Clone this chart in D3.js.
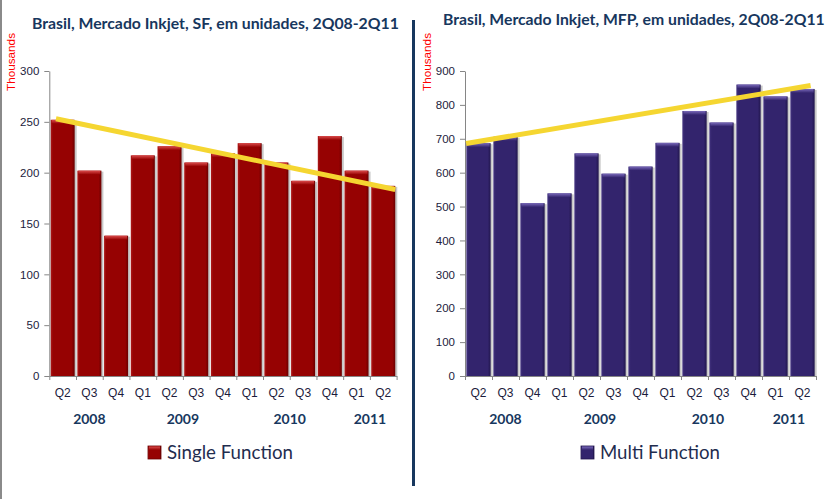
<!DOCTYPE html>
<html><head><meta charset="utf-8">
<script src="https://cdn.jsdelivr.net/npm/d3@7"></script>
<style>body{margin:0;background:#fff}svg{display:block}</style>
</head><body>
<svg id="c" width="826" height="499"></svg>
<script>
// ---- data ----
const categories = ["Q2","Q3","Q4","Q1","Q2","Q3","Q4","Q1","Q2","Q3","Q4","Q1","Q2"];
const yearLabels = ["2008","2009","2010","2011"];
const yearFirst = [0,3,7,11];
const yearLast  = [2,6,10,12];
const sfValues  = [252,202,138,217,226,210,219,229,210,192,236,202,187];
const mfpValues = [687,706,510,539,657,597,618,688,782,748,860,825,847];
const sfTicks  = [0,50,100,150,200,250,300];
const mfpTicks = [0,100,200,300,400,500,600,700,800,900];
const sfTrend  = [253,183.5];
const mfpTrend = [686,857];
const sfTrendPos  = [-0.25,12.45];
const mfpTrendPos = [-0.46,12.3];
const titles = ["Brasil, Mercado Inkjet, SF, em unidades, 2Q08-2Q11","Brasil, Mercado Inkjet, MFP, em unidades, 2Q08-2Q11"];
const legendNames = ["Single Function","Multi Function"];
const yAxisTitle = "Thousands";

const svg = d3.select("#c");
const defs = svg.append("defs");

function makeGrad(id, stops, vertical){
  const g = defs.append("linearGradient").attr("id", id)
    .attr("x1",0).attr("y1",0).attr("x2",vertical?0:1).attr("y2",vertical?1:0);
  stops.forEach(s => g.append("stop").attr("offset", s[0]).attr("stop-color", s[1]));
}
const palettes = {
  sf:  {base:"#960202", light:"#ad1a1a", dark:"#690000", hi:"#db4c4c"},
  mfp: {base:"#33246d", light:"#43337f", dark:"#21164d", hi:"#7a6abb"}
};
Object.entries(palettes).forEach(([k,p])=>{
  makeGrad(k+"Body", [["0%",p.light],["10%",p.base],["88%",p.base],["100%",p.dark]], false);
  makeGrad(k+"Top", [["0%",p.hi],["100%",p.base]], true);
});

// frame decorations
svg.append("line").attr("x1",1).attr("x2",1).attr("y1",0).attr("y2",499)
  .attr("stroke","#8a8a8a").attr("stroke-width",2);
svg.append("line").attr("x1",413.5).attr("x2",413.5).attr("y1",20).attr("y2",486)
  .attr("stroke","#17375e").attr("stroke-width",3);

function fitText(sel, target){
  const n = sel.node();
  const fs = parseFloat(sel.attr("font-size"));
  const w = n.getComputedTextLength();
  sel.attr("font-size", (fs*target/w).toFixed(2));
}

function drawChart(cfg){
  const g = svg.append("g");
  const y = d3.scaleLinear().domain([0, cfg.ticks[cfg.ticks.length-1]]).range([376, 71]);
  const xb = d3.scaleBand().domain(d3.range(categories.length)).range([cfg.x0, cfg.x1])
    .paddingInner(0.1).paddingOuter(0.05);
  const xi = d3.scaleLinear().domain([0, categories.length]).range([cfg.x0, cfg.x1]);
  const step = (cfg.x1-cfg.x0)/categories.length;
  const xc = d3.scaleLinear().domain([0,1]).range([cfg.x0+step/2, cfg.x0+step*1.5]);

  // title
  const t = g.append("text").text(cfg.title).attr("x", cfg.titleX).attr("y", cfg.titleY)
    .attr("font-family","Lato, 'Open Sans', sans-serif").attr("font-weight","bold")
    .attr("font-size",14).attr("fill","#17375e");
  fitText(t, cfg.titleW);

  // y title
  const yt = g.append("text").text(yAxisTitle)
    .attr("transform",`translate(${cfg.yTitleX},62) rotate(-90)`)
    .attr("text-anchor","middle").attr("font-family","'Liberation Sans', Arial, sans-serif")
    .attr("font-size",12.5).attr("fill","#ff0000");
  fitText(yt, 58);

  // bars
  const p = cfg.key;
  const bars = g.append("g");
  const vals = cfg.values;
  bars.selectAll("rect.sh").data(vals).join("rect").attr("class","sh")
    .attr("x",(d,i)=>xb(i)+2).attr("y",d=>y(d)+1)
    .attr("width",xb.bandwidth()).attr("height",d=>y(0)-y(d)-1)
    .attr("fill","#9a9a9a").attr("opacity",0.55);
  bars.selectAll("rect.b").data(vals).join("rect").attr("class","b")
    .attr("x",(d,i)=>xb(i)).attr("y",d=>y(d))
    .attr("width",xb.bandwidth()).attr("height",d=>y(0)-y(d))
    .attr("fill",`url(#${p}Body)`);
  bars.selectAll("rect.t").data(vals).join("rect").attr("class","t")
    .attr("x",(d,i)=>xb(i)+1).attr("y",d=>y(d))
    .attr("width",xb.bandwidth()-2).attr("height",4)
    .attr("fill",`url(#${p}Top)`);

  // y axis
  const ya = g.append("g").attr("transform",`translate(${cfg.x0},0)`)
    .call(d3.axisLeft(y).tickValues(cfg.ticks).tickSize(5).tickPadding(5).tickSizeOuter(0));
  ya.select(".domain").attr("stroke","#868686");
  ya.selectAll(".tick line").attr("stroke","#868686");
  ya.selectAll("text").attr("font-family","'Liberation Sans', Arial, sans-serif")
    .attr("font-size",11.5).attr("fill","#1c1c3c");

  // x axis boundary ticks
  const xa = g.append("g").attr("transform","translate(0,376)")
    .call(d3.axisBottom(xi).tickValues(d3.range(categories.length+1)).tickFormat("").tickSize(4).tickSizeOuter(0));
  xa.select(".domain").attr("stroke","#868686");
  xa.selectAll(".tick line").attr("stroke","#868686");
  // category labels
  const xl = g.append("g").attr("transform","translate(0,376)")
    .call(d3.axisBottom(xb).tickFormat(i=>categories[i]).tickSize(0).tickPadding(12));
  xl.select(".domain").remove();
  xl.selectAll("text").attr("font-family","'Liberation Sans', Arial, sans-serif")
    .attr("font-size",12).attr("fill","#1c1c3c");

  // year labels
  g.selectAll("text.yr").data(yearLabels).join("text").attr("class","yr")
    .text(d=>d)
    .attr("x",(d,i)=>(xi(yearFirst[i])+xi(yearLast[i]+1))/2)
    .attr("y",424).attr("text-anchor","middle")
    .attr("font-family","Lato, 'Open Sans', sans-serif").attr("font-weight","bold")
    .attr("font-size",14).attr("fill","#17375e");

  // trend line
  const tl = d3.line().x((d,i)=>xc(cfg.trendPos[i])).y(d=>y(d));
  g.append("path").attr("d", tl(cfg.trend)).attr("fill","none")
    .attr("stroke","#f5d631").attr("stroke-width",5);

  // legend
  const lg = g.append("g");
  lg.append("rect").attr("x",cfg.legX).attr("y",446).attr("width",13).attr("height",13)
    .attr("fill",`url(#${p}Body)`).attr("stroke",palettes[p].dark).attr("stroke-width",0.8);
  lg.append("rect").attr("x",cfg.legX+1).attr("y",446.5).attr("width",11).attr("height",3.5)
    .attr("fill",`url(#${p}Top)`);
  const lt = lg.append("text").text(cfg.legend).attr("x",cfg.legX+19).attr("y",459)
    .attr("font-family","Lato, 'Open Sans', sans-serif").attr("font-size",19)
    .attr("fill","#1f2d4f");
  fitText(lt, cfg.legW);
}

drawChart({key:"sf", values:sfValues, ticks:sfTicks, trend:sfTrend, trendPos:sfTrendPos,
  x0:49.3, x1:396.6, title:titles[0], titleX:32, titleY:28.5, titleW:367,
  yTitleX:15, legend:legendNames[0], legX:148, legW:126});
drawChart({key:"mfp", values:mfpValues, ticks:mfpTicks, trend:mfpTrend, trendPos:mfpTrendPos,
  x0:465, x1:816, title:titles[1], titleX:443, titleY:25, titleW:382,
  yTitleX:431, legend:legendNames[1], legX:581, legW:120});
</script>
</body></html>
